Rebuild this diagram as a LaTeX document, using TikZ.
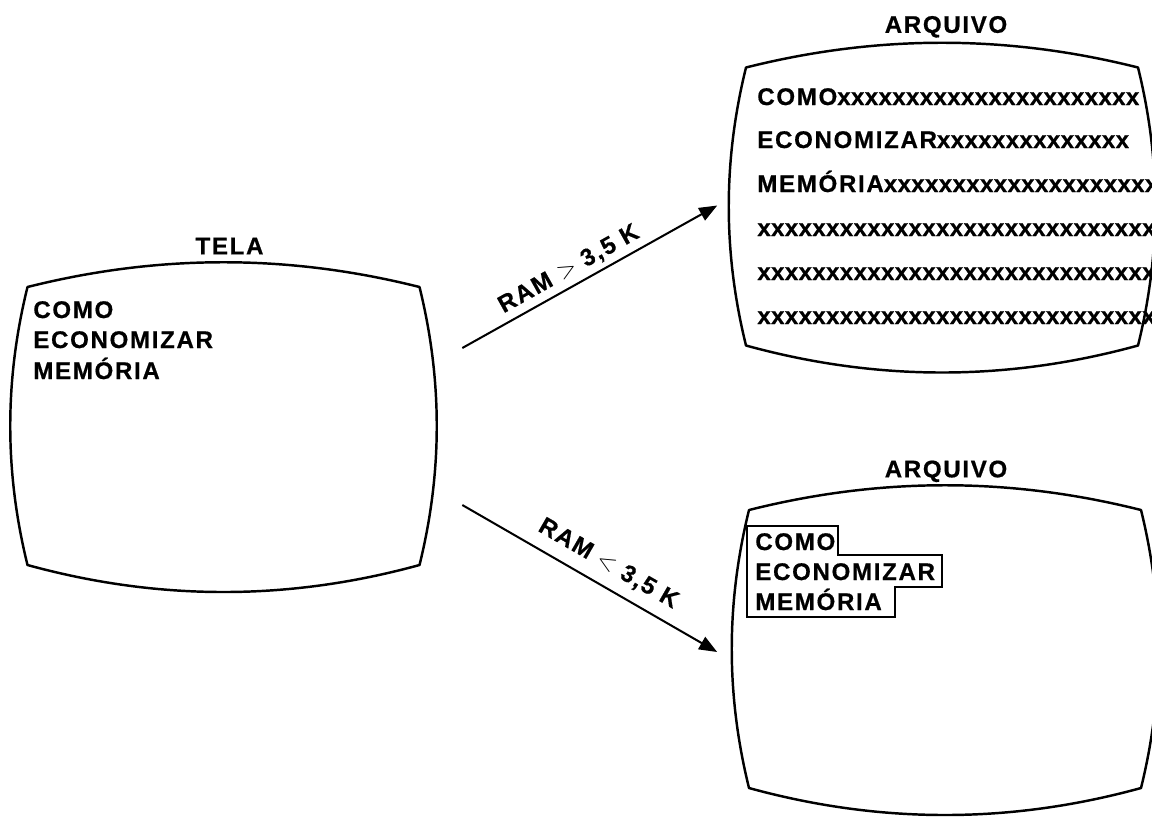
\documentclass[tikz,border=0pt]{standalone}
\usepackage{fontspec}
\setmainfont{Liberation Sans}
\newfontfamily\letra{Liberation Sans}[LetterSpace=7, FakeBold=0.6]
\newfontfamily\xis{Liberation Sans}[LetterSpace=1.5, FakeBold=0.6]
\usetikzlibrary{positioning,arrows.meta}

\tikzset{
  quadro/.style={minimum width=8.54cm, minimum height=6.6cm, inner sep=0pt},
  tubo/.style={line width=1.4pt, line join=round},
  texto/.style={anchor=base west, inner sep=0pt, font=\letra\bfseries\fontsize{13.7}{15}\selectfont},
  titulo/.style={inner sep=0pt, text depth=0pt, font=\letra\bfseries\fontsize{13.7}{15}\selectfont},
  seta/.style={line width=1.15pt, -{Triangle[length=0.36cm, width=0.28cm]}},
  rotulo/.style={font=\letra\bfseries\fontsize{13.7}{15}\selectfont, sloped, above},
  caixa/.style={line width=1.1pt, line join=miter},
}

% contorno de tela de TV em volta do centro #1
\newcommand{\crt}[1]{%
  \draw[tubo] ([shift={(-196,-140)}]#1)
    .. controls ([shift={(-65,-173)}]#1) and ([shift={(65,-173)}]#1) .. ([shift={(196,-140)}]#1)
    .. controls ([shift={(219,-47)}]#1) and ([shift={(219,45)}]#1) .. ([shift={(196,138)}]#1)
    .. controls ([shift={(65,174)}]#1) and ([shift={(-65,174)}]#1) .. ([shift={(-196,138)}]#1)
    .. controls ([shift={(-219,45)}]#1) and ([shift={(-219,-47)}]#1) .. ([shift={(-196,-140)}]#1)
    -- cycle;}

\begin{document}
\begin{tikzpicture}[x=0.02cm, y=-0.02cm]
\useasboundingbox (0,0) rectangle (1152,816);
\clip (0,0) rectangle (1152,816);

% telas
\node[quadro] (tela) at (223.5,427) {};
\node[quadro] (arq1) at (942,207.5) {};
\node[quadro] (arq2) at (945,650) {};
\crt{tela.center}
\crt{arq1.center}
\crt{arq2.center}

\node[titulo, above=0.14cm of tela.north, xshift=0.12cm] (tTela) {TELA};
\node[titulo, above=0.18cm of arq1.north, xshift=0.08cm] (tArq1) {ARQUIVO};
\node[titulo, above=0.14cm of arq2.north, xshift=0.02cm] (tArq2) {ARQUIVO};

% texto na tela
\node[texto] (t1) at (33,318) {COMO};
\node[texto] (t2) at (33,348) {ECONOMIZAR};
\node[texto] (t3) at (33,379) {MEMÓRIA};

% arquivo com RAM grande
\node[texto] (a1) at (757,105) {COMO{\xis xxxxxxxxxxxxxxxxxxxxxx}};
\node[texto] (a2) at (757,148) {ECONOMIZAR{\xis xxxxxxxxxxxxxx}};
\node[texto] (a3) at (757,192) {MEMÓRIA{\xis xxxxxxxxxxxxxxxxxxxxx}};
\node[texto] (a4) at (757,236) {\xis xxxxxxxxxxxxxxxxxxxxxxxxxxxxxx};
\node[texto] (a5) at (757,280) {\xis xxxxxxxxxxxxxxxxxxxxxxxxxxxxxx};
\node[texto] (a6) at (757,324) {\xis xxxxxxxxxxxxxxxxxxxxxxxxxxxxxx};

% arquivo com RAM pequena
\node[texto] (b1) at (755,550) {COMO};
\node[texto] (b2) at (755,580) {ECONOMIZAR};
\node[texto] (b3) at (755,610) {MEMÓRIA};
\draw[caixa] (747,526) -- (838,526) -- (838,555) -- (942,555) -- (942,587)
  -- (895,587) -- (895,617) -- (747,617) -- cycle;

% setas
\draw[seta] ([shift={(25,-79)}]tela.east) -- node[rotulo, pos=.45, inner sep=3pt] (r1) {RAM $>$ 3,5 K} ([shift={(-11,-2)}]arq1.west);
\draw[seta] ([shift={(25,78)}]tela.east) -- node[rotulo, pos=.53, inner sep=6pt] (r2) {RAM $<$ 3,5 K} ([shift={(-14,2)}]arq2.west);
\end{tikzpicture}
\end{document}
